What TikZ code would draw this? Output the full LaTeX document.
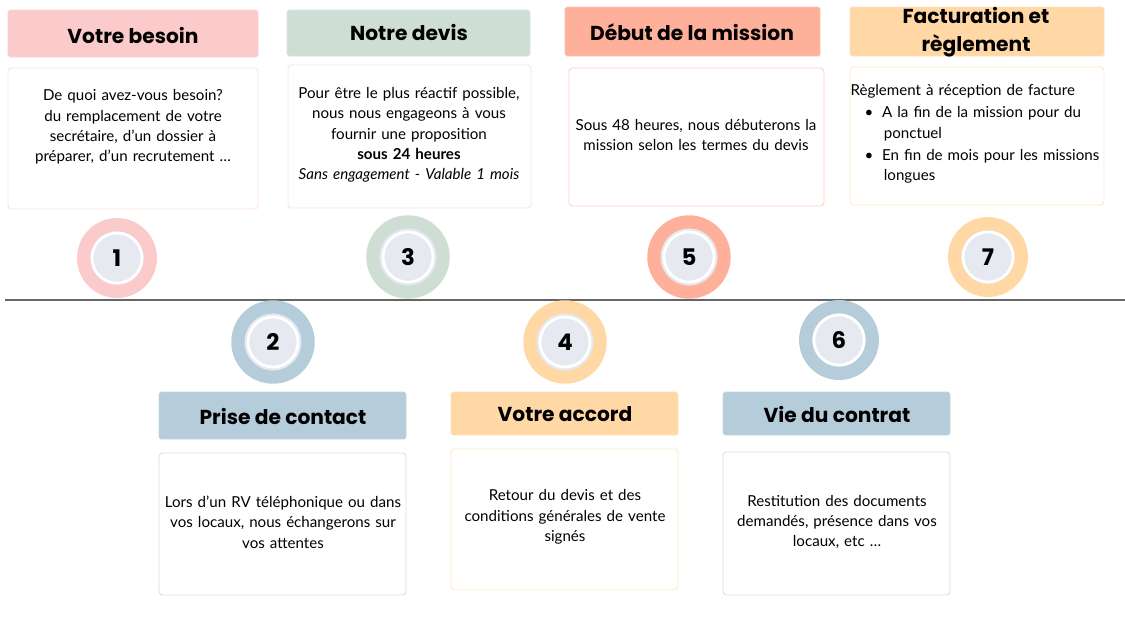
\documentclass[tikz,border=0pt]{standalone}
\usepackage{fontspec}
\setmainfont{Poppins}
\newfontfamily\bodyfont{Lato}
\definecolor{ROSEcolor}{HTML}{FBCBCB}
\definecolor{VERTcolor}{HTML}{CFDED5}
\definecolor{SAUMONcolor}{HTML}{FFB09B}
\definecolor{ORANGEcolor}{HTML}{FFD8A5}
\definecolor{BLEUcolor}{HTML}{B5CCDA}
\definecolor{LIGNEcolor}{HTML}{666666}
\definecolor{DISQUEcolor}{HTML}{E6EAF0}
\usetikzlibrary{calc}

\begin{document}
\begin{tikzpicture}[x=0.02cm, y=-0.02cm]
    \tikzset{%
        titre/.style={rounded corners=1pt, fill=#1, draw=#1!80!white},
        cadre/.style={rounded corners=2pt, fill=white, draw=#1!60!white, line width=0.5pt},
        texte/.style={font=\bodyfont\fontsize{8.6pt}{11.6pt}\selectfont, align=center, text width=#1},
        entete/.style={font=\bfseries\fontsize{11.5pt}{14pt}\selectfont, align=center},
        pastille/.style={circle, minimum size=40pt, line width=7.5pt, draw=#1, fill=DISQUEcolor,
                font=\fontsize{13pt}{13pt}\selectfont\bfseries, inner sep=0pt},
    }
    \useasboundingbox (0, 0) rectangle (1125, 640);

    % axe
    \draw [LIGNEcolor, line width=1.6pt] (5, 300) -- (1125, 300);

    % etapes du haut
    \draw [titre=ROSEcolor] (8, 10) rectangle (258, 57);
    \node [entete] (t1) at (133, 35) {Votre besoin};
    \draw [cadre=ROSEcolor] (8, 68) rectangle (258, 209);
    \node [texte=5.2cm] (c1) at (133, 127) {De quoi avez-vous besoin?\\du remplacement de votre\\secrétaire, d’un dossier à\\préparer, d’un recrutement \dots};

    \draw [titre=VERTcolor] (287, 10) rectangle (530, 56);
    \node [entete] (t3) at (409, 32) {Notre devis};
    \draw [cadre=VERTcolor] (288, 65) rectangle (531, 208);
    \node [texte=5.2cm] (c3) at (409, 135) {Pour être le plus réactif possible,\\nous nous engageons à vous\\fournir une proposition\\\textbf{sous 24 heures}\\\textit{Sans engagement - Valable 1 mois}};

    \draw [titre=SAUMONcolor] (565, 7) rectangle (820, 56);
    \node [entete] (t5) at (692, 32) {Début de la mission};
    \draw [cadre=SAUMONcolor] (569, 68) rectangle (824, 206);
    \node [texte=5.2cm] (c5) at (696, 135) {Sous 48 heures, nous débuterons la\\mission selon les termes du devis};

    \draw [titre=ORANGEcolor] (850, 7) rectangle (1104, 56);
    \node [entete, font=\bfseries\fontsize{11.5pt}{16pt}\selectfont] (t7) at (976, 32) {Facturation et\\règlement};
    \draw [cadre=ORANGEcolor] (850, 67) rectangle (1104, 205);
    \node [texte=5.1cm, align=left] (c7) at (978, 134) {Règlement à réception de facture\\[1pt]
        \hspace*{8pt}\textbullet\hspace*{5pt}A la fin de la mission pour du\\\hspace*{19pt}ponctuel\\[1pt]
        \hspace*{8pt}\textbullet\hspace*{5pt}En fin de mois pour les missions\\\hspace*{19pt}longues};

    % etapes du bas
    \draw [titre=BLEUcolor] (159, 392) rectangle (406, 439);
    \node [entete] (t2) at (283, 416) {Prise de contact};
    \draw [cadre=BLEUcolor] (159, 453) rectangle (406, 595);
    \node [texte=5.2cm] (c2) at (283, 522) {Lors d’un RV téléphonique ou dans\\vos locaux, nous échangerons sur\\vos attentes};

    \draw [titre=ORANGEcolor] (451, 392) rectangle (678, 435);
    \node [entete] (t4) at (565, 414) {Votre accord};
    \draw [cadre=ORANGEcolor] (451, 449) rectangle (678, 590);
    \node [texte=4.6cm] (c4) at (565, 517) {Retour du devis et des\\conditions générales de vente\\signés};

    \draw [titre=BLEUcolor] (723, 392) rectangle (950, 435);
    \node [entete] (t6) at (837, 414) {Vie du contrat};
    \draw [cadre=BLEUcolor] (723, 452) rectangle (950, 595);
    \node [texte=4.6cm] (c6) at (837, 522) {Restitution des documents\\demandés, présence dans vos\\locaux, etc \dots};

    % pastilles
    \node [pastille=ROSEcolor, minimum size=38pt] (p1) at (117, 258) {1};
    \node [pastille=BLEUcolor] (p2) at (273, 342) {2};
    \node [pastille=VERTcolor] (p3) at (408, 257) {3};
    \node [pastille=ORANGEcolor] (p4) at (565, 342) {4};
    \node [pastille=SAUMONcolor] (p5) at (689, 257) {5};
    \node [pastille=BLEUcolor, minimum size=38pt] (p6) at (839, 340) {6};
    \node [pastille=ORANGEcolor, minimum size=38pt] (p7) at (988, 257) {7};
    \foreach \p in {p1, p2, p3, p4, p5, p6, p7} {%
            \draw [white, line width=1.5pt] (\p.center) circle (0.5cm);
        };
\end{tikzpicture}
\end{document}
